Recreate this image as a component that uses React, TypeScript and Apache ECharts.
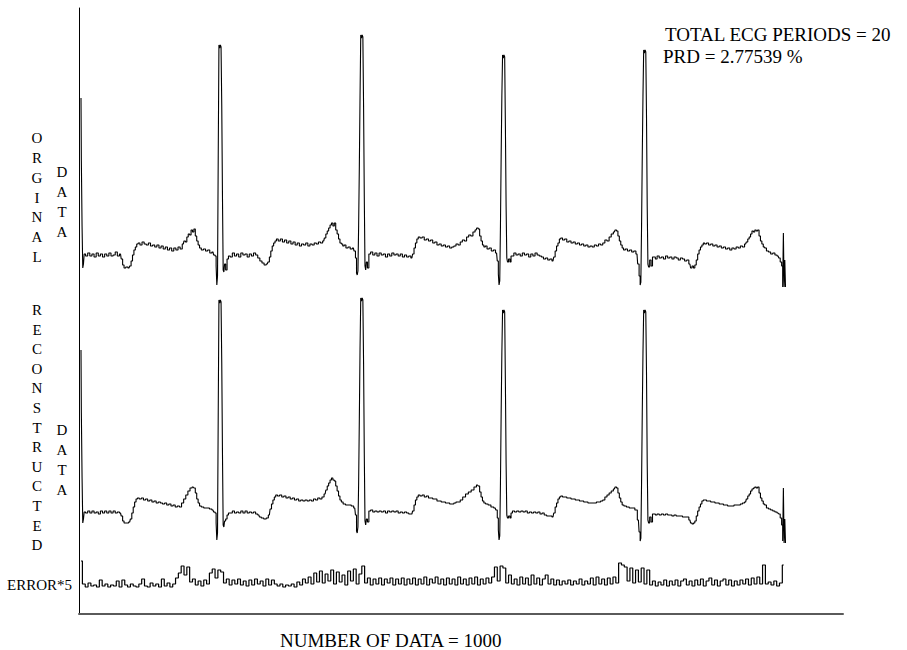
import React, { useEffect, useRef } from "react";
import * as echarts from "echarts";

// sample index (0..999) , amplitude (arbitrary units, baseline = 0)
const ORIGINAL: number[][] = [
  [0,158],[1,95],[2,30],[3,-12],[4,-8],[5,2],[8,0],[11,3],[14,0],[17,2],[20,-1],[23,3],[26,0],[29,2],[32,-1],[35,2],[38,0],[41,3],[44,0],[47,1],[50,4],[53,0],[56,2],
  [58,-3],[60,-9],[62,-12],[65,-11],[68,-12],[70,-10],
  [72,-5],[74,1],[76,6],[78,9],[80,12],[82,13],
  [85,11],[88,14],[91,12],[94,11],[97,13],[100,10],[103,11],[106,9],[109,11],[112,8],[115,10],[118,7],[121,9],[124,6],[127,8],[130,5],[133,8],[136,6],[139,9],[142,7],
  [145,12],[147,15],[149,14],[151,19],[153,22],[155,21],[157,26],[159,24],[161,27],
  [163,20],[165,15],[167,11],[169,8],
  [172,6],[175,7],[178,5],[181,6],[184,3],[187,4],[189,1],
  [191,0],[192,-10],[193,-29],[194,-20],[195,100],[196,211],[197,208],[198,211],[199,209],[200,150],[201,60],[202,-14],[203,-16],[204,-8],[206,-14],[208,-3],[210,0],
  [213,-1],[216,3],[219,0],[222,2],[225,-1],[228,3],[231,1],[234,2],[237,-1],[240,2],[243,0],[246,3],[249,1],
  [252,-2],[255,-5],[258,-7],[261,-9],[264,-8],[266,-6],
  [268,-1],[270,5],[272,10],[274,13],[276,15],[278,17],
  [281,15],[284,17],[287,14],[290,16],[293,13],[296,15],[299,12],[302,14],[305,11],[308,13],[311,10],[314,12],[317,11],[320,13],[323,10],[326,12],[329,11],[332,13],[335,12],[338,14],[341,13],[344,15],
  [346,18],[348,22],[350,25],[352,28],[354,31],[356,33],[358,30],[360,33],
  [362,26],[364,22],[366,17],[368,13],[370,12],[372,10],[374,11],
  [377,8],[380,9],[383,7],[386,8],[388,5],
  [390,-2],[391,-17],[392,-19],[393,-15],[394,30],[395,90],[396,160],[397,221],[398,218],[399,221],[400,219],[401,150],[402,60],[403,-10],[404,-14],[405,-6],[407,-12],[409,2],
  [412,4],[415,1],[418,3],[421,0],[424,3],[427,1],[430,2],[433,-1],[436,2],[439,0],[442,3],[445,1],[448,2],[451,0],[454,2],[457,-1],[460,1],[463,-1],[466,0],[469,-2],
  [471,2],[473,8],[475,13],[477,17],[479,19],
  [482,18],[485,19],[488,16],[491,17],[494,15],[497,16],[500,13],[503,14],[506,11],[509,12],[512,10],[515,11],[518,9],[521,10],[524,8],[527,9],[530,10],[533,12],[536,11],
  [539,14],[542,16],[545,15],[548,19],[551,21],[554,20],[557,24],[560,26],[562,28],[564,27],
  [566,20],[568,15],[570,11],[572,9],[574,10],
  [577,7],[580,8],[583,5],[586,6],[589,3],
  [591,-5],[592,-18],[593,-29],[594,-25],[595,30],[596,100],[597,160],[598,201],[599,198],[600,201],[601,199],[602,130],[603,50],[604,-2],[605,-6],[607,-3],[609,-6],[610,0],
  [612,0],[615,3],[618,1],[621,2],[624,0],[627,3],[630,1],[633,2],[636,-1],[639,2],[642,0],[645,3],[648,1],[651,0],[654,-1],
  [657,-3],[660,-2],[663,-4],[666,-3],[669,-5],
  [671,-1],[673,5],[675,10],[677,13],[679,17],[681,18],
  [684,16],[687,17],[690,14],[693,15],[696,13],[699,14],[702,12],[705,13],[708,11],[711,12],[714,10],[717,11],[720,9],[723,10],[726,9],[729,11],[732,10],[735,12],[738,11],
  [741,13],[744,16],[747,15],[750,19],[753,22],[756,24],[758,26],[760,25],
  [762,20],[764,15],[766,11],[768,8],[770,6],[773,7],
  [776,5],[779,6],[782,4],[785,5],[788,2],
  [790,-8],[792,-20],[793,-29],[794,-26],[795,30],[796,100],[797,160],[798,206],[799,203],[800,206],[801,204],[802,140],[803,50],[804,-8],[805,-11],[807,-4],[809,-10],[811,-1],
  [813,-1],[815,-3],[818,0],[821,-2],[824,-1],[827,-3],[830,0],[833,-2],[836,-1],[839,-3],[842,-1],[845,-2],[848,-4],[851,-2],[854,-3],[857,-5],[860,-4],
  [863,-8],[865,-12],[867,-10],[869,-12],[871,-9],
  [873,-4],[875,2],[877,6],[879,9],[881,11],[883,13],[885,12],
  [888,13],[891,11],[894,12],[897,10],[900,11],[903,9],[906,10],[909,8],[912,9],[915,7],[918,8],[921,6],[924,8],[927,7],[930,9],[933,8],[936,10],[939,9],[942,12],
  [944,14],[946,17],[948,19],[950,22],[952,25],[954,24],[956,26],[958,25],[960,26],
  [962,20],[964,15],[966,12],[968,9],[970,8],
  [973,5],[976,4],[979,2],[982,3],[985,1],[988,0],[990,-2],
  [992,-6],[994,-10],[995,-31],[996,23],[997,-31],[998,-4],[999,-31],
];

const RECONSTRUCTED: number[][] = [
  [0,163],[1,100],[2,36],[3,-10],[4,-6],[5,1],[8,0],[11,2],[14,0],[17,2],[20,0],[23,1],[26,-1],[29,2],[32,0],[35,2],[38,0],[41,2],[44,0],[47,2],[50,0],[53,1],[56,0],
  [58,-3],[60,-8],[62,-10],[66,-10],[69,-9],[71,-6],
  [73,0],[75,6],[77,11],[79,14],[81,15],
  [84,14],[87,15],[90,13],[93,14],[96,12],[99,13],[102,11],[105,12],[108,10],[111,11],[114,10],[117,9],[120,10],[123,8],[126,9],[129,7],[132,8],[135,6],[138,7],[141,6],
  [144,10],[147,14],[150,18],[153,22],[156,25],[159,26],[161,25],
  [163,20],[165,14],[167,10],[169,7],
  [172,6],[176,5],[180,5],[184,4],[187,3],[189,1],
  [191,0],[192,-10],[193,-27],[194,-20],[195,100],[196,213],[197,210],[198,213],[199,211],[200,150],[201,60],[202,-12],[203,-14],[204,-8],[206,-6],[208,-2],[210,0],
  [213,0],[216,2],[219,0],[222,1],[225,0],[228,2],[231,0],[234,2],[237,0],[240,1],[243,0],[246,1],[249,-1],[252,-2],[254,-4],[257,-5],[261,-6],[264,-5],[267,-2],
  [269,4],[271,9],[273,13],[275,16],[277,18],
  [280,17],[283,18],[286,16],[289,17],[292,15],[295,16],[298,14],[301,15],[304,13],[307,14],[310,12],[313,13],[316,12],[319,13],[322,12],[325,13],[328,12],[331,14],[334,13],[337,15],[340,14],[343,16],
  [346,19],[348,23],[350,27],[352,30],[354,33],[356,35],[358,33],[360,32],
  [362,27],[364,22],[366,17],[368,13],[370,11],[373,9],[377,8],[381,8],[385,7],[388,5],
  [390,-2],[391,-18],[392,-20],[393,-14],[394,30],[395,95],[396,165],[397,215],[398,212],[399,215],[400,213],[401,150],[402,60],[403,-8],[404,-12],[405,-6],[407,-9],[409,2],
  [412,3],[415,1],[418,2],[421,1],[424,2],[427,1],[430,2],[433,0],[436,2],[439,1],[442,2],[445,1],[448,2],[451,0],[454,1],[457,0],[460,1],[463,0],[466,-1],[469,-1],
  [471,2],[473,8],[475,13],[477,16],[479,18],
  [482,17],[485,18],[488,16],[491,17],[494,15],[497,15],[500,14],[503,14],[506,12],[509,12],[512,11],[515,11],[518,10],[521,10],[524,9],[527,9],[530,10],[533,11],[536,11],
  [539,13],[543,16],[547,19],[551,21],[555,23],[559,26],[562,28],[564,27],
  [566,21],[568,16],[570,12],[572,10],[575,9],[579,8],[583,6],[587,5],[589,3],
  [591,-5],[592,-17],[593,-27],[594,-23],[595,30],[596,100],[597,160],[598,203],[599,200],[600,203],[601,201],[602,130],[603,50],[604,-2],[605,-5],[607,-3],[609,-5],[610,0],
  [613,2],[616,1],[619,2],[622,1],[625,2],[628,1],[631,2],[634,0],[637,1],[640,0],[643,1],[646,0],[649,1],[652,-1],[655,0],[658,-2],[662,-3],[666,-3],[669,-4],
  [671,0],[673,6],[675,10],[677,14],[679,16],[681,17],
  [684,16],[687,16],[690,15],[693,15],[696,14],[699,14],[702,13],[705,13],[708,12],[711,12],[714,11],[717,11],[720,10],[723,10],[726,10],[729,10],[732,11],[735,11],[738,12],
  [741,13],[744,16],[747,18],[750,20],[753,22],[756,24],[758,26],[760,25],
  [762,20],[764,15],[766,11],[768,8],[771,7],[775,6],[779,5],[783,5],[787,3],
  [790,-7],[792,-19],[793,-28],[794,-25],[795,30],[796,100],[797,160],[798,203],[799,200],[800,203],[801,201],[802,140],[803,50],[804,-7],[805,-10],[807,-4],[809,-9],[811,-1],
  [813,-1],[815,-2],[818,-1],[821,-2],[824,-1],[827,-2],[830,-1],[833,-2],[836,-2],[839,-3],[842,-2],[845,-3],[848,-3],[851,-3],[854,-4],[857,-4],[860,-4],
  [863,-7],[865,-10],[867,-11],[869,-10],[871,-8],
  [873,-3],[875,2],[877,6],[879,9],[881,12],[883,13],[885,13],
  [888,12],[891,12],[894,11],[897,11],[900,10],[903,10],[906,9],[909,9],[912,8],[915,8],[918,7],[921,7],[924,7],[927,8],[930,8],[933,8],[936,9],[939,10],[942,11],
  [944,14],[946,17],[948,19],[950,22],[952,24],[954,25],[956,26],[958,25],[960,26],
  [962,20],[964,15],[966,12],[968,9],[970,8],
  [973,5],[976,4],[979,3],[982,2],[985,1],[988,0],[990,-1],
  [992,-5],[994,-12],[995,-28],[996,25],[997,-30],[998,-6],[999,-30],
];

// error * 5, one value every ERROR_STEP samples
const ERROR_STEP = 4;
const ERROR_X5: number[] = [
  26, 3, 0, 4, 1, 2, 0, 7, 1, 3,
  0, 2, 1, 6, 0, 7, 2, 0, 3, 1,
  0, 3, 8, 1, 0, 4, 1, 3, 0, 8,
  1, 4, 0, 3, 9, 14, 21, 12, 20, 5,
  8, 2, 6, 1, 7, 3, 14, 18, 9, 17,
  15, 4, 8, 2, 7, 3, 8, 2, 6, 1,
  7, 2, 8, 3, 6, 1, 8, 2, 7, 3,
  1, 3, 0, 2, 1, 3, 0, 5, 2, 8,
  4, 10, 3, 14, 5, 16, 4, 13, 6, 17,
  3, 15, 5, 12, 2, 16, 6, 18, 3, 13,
  21, 4, 9, 2, 8, 3, 9, 2, 8, 4,
  9, 2, 8, 3, 9, 2, 8, 3, 9, 2,
  8, 3, 10, 2, 8, 4, 10, 3, 8, 2,
  9, 3, 8, 2, 10, 3, 8, 2, 9, 3,
  10, 2, 8, 3, 9, 4, 10, 20, 6, 21,
  19, 4, 12, 3, 8, 2, 10, 3, 9, 2,
  12, 3, 9, 2, 8, 12, 3, 8, 2, 7,
  2, 6, 3, 7, 2, 6, 3, 8, 2, 6,
  3, 9, 2, 10, 3, 8, 2, 9, 3, 10,
  4, 24, 22, 20, 6, 19, 4, 17, 5, 19,
  3, 17, 2, 6, 1, 5, 2, 7, 1, 6,
  2, 7, 1, 6, 8, 2, 6, 1, 7, 2,
  8, 1, 6, 9, 2, 7, 1, 6, 8, 2,
  7, 1, 6, 2, 7, 3, 8, 2, 9, 3,
  10, 3, 22, 3, 5, 2, 6, 1, 4, 22,
];

const TOTAL_PERIODS = 20;
const PRD = "2.77539";
const N_DATA = 1000;
const X_MAX = 1080;

const SERIF = "Liberation Serif";

export default function App() {
  const ref = useRef<HTMLDivElement>(null);

  useEffect(() => {
    if (!ref.current) return;
    const chart = echarts.init(ref.current, undefined, { renderer: "svg" });
    const hidden = { show: false };
    const dataX = (i: number) => ({
      type: "value" as const,
      gridIndex: i,
      min: 0,
      max: X_MAX,
      axisLine: hidden,
      axisTick: hidden,
      axisLabel: hidden,
      splitLine: hidden,
    });
    const dataY = (i: number, min: number, max: number) => ({
      type: "value" as const,
      gridIndex: i,
      min,
      max,
      axisLine: hidden,
      axisTick: hidden,
      axisLabel: hidden,
      splitLine: hidden,
    });
    const lineStyle = { color: "#000", width: 1.1 };
    const txt = (text: string, x: number, y: number, size: number, extra: any = {}) => ({
      type: "text",
      x,
      y,
      style: {
        text,
        fontFamily: SERIF,
        fontSize: size,
        fill: "#000",
        verticalAlign: "middle",
        ...extra,
      },
    });
    const vertical = (text: string, x: number, y: number, lh: number) =>
      txt(text.split("").join("\n"), x, y, 15, { align: "center", lineHeight: lh });

    chart.setOption({
      animation: false,
      backgroundColor: "#fff",
      grid: [
        { left: 79, top: 8, width: 764, height: 606 },
        { left: 81, top: 16, width: 762, height: 280 },
        { left: 81, top: 273, width: 762, height: 280 },
        { left: 81, top: 547, width: 762, height: 60 },
      ],
      xAxis: [
        {
          type: "value",
          gridIndex: 0,
          min: 0,
          max: 1,
          axisLine: { show: true, lineStyle: { color: "#5a5a5a", width: 2 } },
          axisTick: hidden,
          axisLabel: hidden,
          splitLine: hidden,
        },
        dataX(1),
        dataX(2),
        dataX(3),
      ],
      yAxis: [
        {
          type: "value",
          gridIndex: 0,
          min: 0,
          max: 1,
          axisLine: { show: true, lineStyle: { color: "#000", width: 1 } },
          axisTick: hidden,
          axisLabel: hidden,
          splitLine: hidden,
        },
        dataY(1, -40, 240),
        dataY(2, -40, 240),
        dataY(3, -20, 40),
      ],
      series: [
        {
          type: "line",
          xAxisIndex: 1,
          yAxisIndex: 1,
          data: ORIGINAL,
          showSymbol: false,
          step: "middle",
          lineStyle,
        },
        {
          type: "line",
          xAxisIndex: 2,
          yAxisIndex: 2,
          data: RECONSTRUCTED,
          showSymbol: false,
          step: "middle",
          lineStyle,
        },
        {
          type: "line",
          xAxisIndex: 3,
          yAxisIndex: 3,
          data: ERROR_X5.map((v, k) => [k * ERROR_STEP, v]),
          showSymbol: false,
          step: "middle",
          lineStyle: { color: "#000", width: 1.2 },
        },
      ],
      graphic: [
        txt(`TOTAL ECG PERIODS = ${TOTAL_PERIODS}`, 665, 34, 19),
        txt(`PRD = ${PRD} %`, 663, 56, 19),
        txt(`NUMBER OF DATA = ${N_DATA}`, 280, 640, 19),
        txt("ERROR*5", 7, 585, 15),
        vertical("ORGINAL", 37, 197.5, 19.8),
        vertical("DATA", 62, 202, 20),
        vertical("RECONSTRUCTED", 37, 427.5, 19.6),
        vertical("DATA", 62, 460, 20),
      ],
    });
    return () => chart.dispose();
  }, []);

  return (
    <div
      ref={ref}
      style={{ position: "fixed", left: 0, top: 0, width: 907, height: 650, background: "#fff" }}
    />
  );
}
